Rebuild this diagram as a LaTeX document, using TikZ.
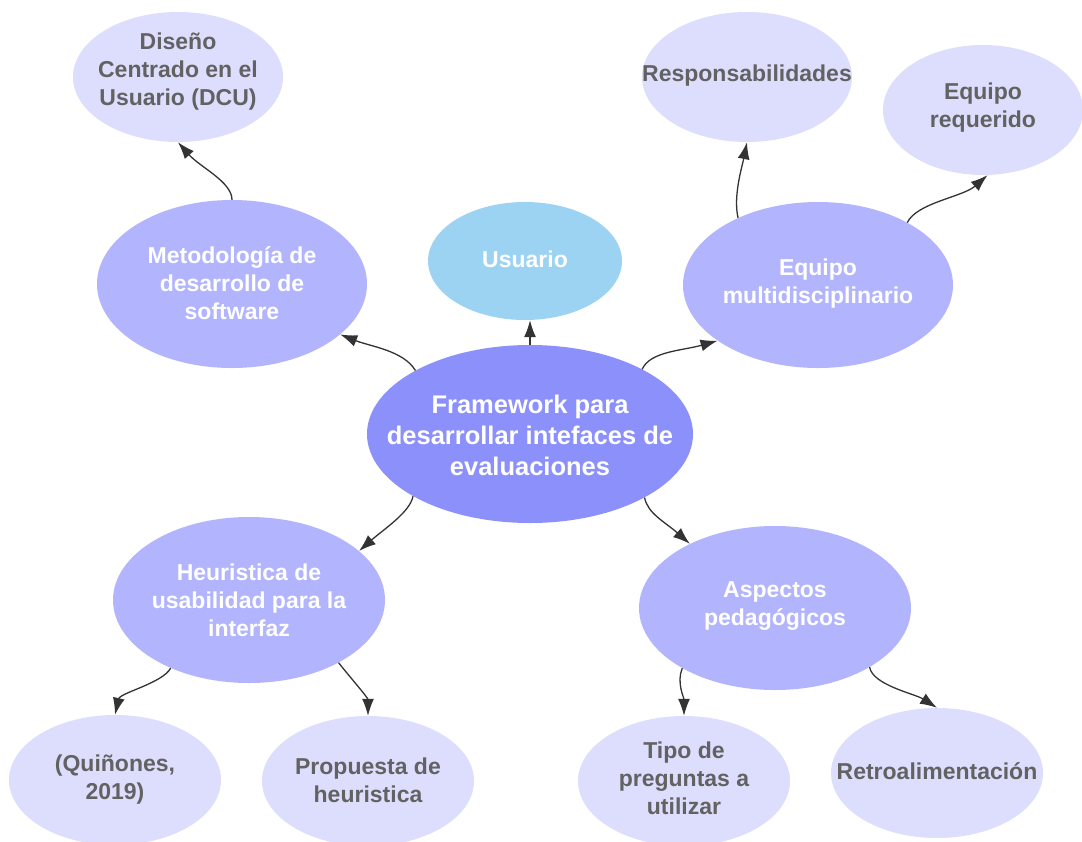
\documentclass[tikz,border=0pt]{standalone}
\usepackage{fontspec}
\setmainfont{Liberation Sans}
\usetikzlibrary{shapes.geometric,arrows.meta}
\definecolor{cmain}{HTML}{8C90FA}
\definecolor{cmid}{HTML}{B2B5FD}
\definecolor{cleaf}{HTML}{DDDEFD}
\definecolor{cuser}{HTML}{9DD3F2}
\definecolor{cleaftext}{HTML}{626262}
\definecolor{carrow}{HTML}{333333}
\begin{document}
\begin{tikzpicture}[x=1pt,y=-1pt,
  blob/.style={ellipse, draw=none, inner sep=0pt},
  mainblob/.style={blob, fill=cmain, minimum width=326pt, minimum height=178pt},
  midblob/.style={blob, fill=cmid, minimum width=270pt, minimum height=166pt},
  leafblob/.style={blob, fill=cleaf, minimum width=212pt, minimum height=130pt},
  userblob/.style={blob, fill=cuser, minimum width=194pt, minimum height=118pt},
  maintext/.style={align=center, inner sep=0pt, text=white, font=\fontsize{25.5}{31}\selectfont\bfseries},
  midtext/.style={align=center, inner sep=0pt, text=white, font=\fontsize{23}{28}\selectfont\bfseries},
  leaftext/.style={midtext, text=cleaftext},
  conn/.style={draw=carrow, line width=1.3pt, -{Latex[length=17pt,width=12pt]}},
]
\useasboundingbox (0,0) rectangle (1082,841);
\clip (0,0) rectangle (1082,841);
\fill[white] (0,0) rectangle (1082,841);

% ellipses
\node[mainblob] (C) at (530,434) {};
\node[userblob] (U) at (525,261) {};
\node[midblob, minimum height=168pt] (M) at (232,284) {};
\node[midblob] (E) at (818,285) {};
\node[midblob, minimum width=272pt] (H) at (249,600) {};
\node[midblob, minimum width=272pt, minimum height=164pt] (A) at (775,608) {};
\node[leafblob, minimum width=210pt] (D) at (178,77) {};
\node[leafblob, minimum width=210pt] (R) at (747,77) {};
\node[leafblob, minimum width=200pt] (Q) at (983,110) {};
\node[leafblob] (Qu) at (115,780) {};
\node[leafblob] (P) at (368,781) {};
\node[leafblob] (T) at (684,781) {};
\node[leafblob] (Rt) at (937,773) {};

% texts
\node[maintext] (C-t) at (530,435) {Framework para\\desarrollar intefaces de\\evaluaciones};
\node[midtext] (U-t) at (525,259) {Usuario};
\node[midtext] (M-t) at (232,283) {Metodología de\\desarrollo de\\software};
\node[midtext] (E-t) at (818,284) {Equipo\\multidisciplinario};
\node[midtext] (H-t) at (249,600) {Heuristica de\\usabilidad para la\\interfaz};
\node[midtext] (A-t) at (775,606) {Aspectos\\pedagógicos};
\node[leaftext] (D-t) at (178,72) {Diseño\\Centrado en el\\Usuario (DCU)};
\node[leaftext] (R-t) at (747,76) {Responsabilidades};
\node[leaftext] (Q-t) at (983,108) {Equipo\\requerido};
\node[leaftext] (Qu-t) at (115,780) {(Quiñones,\\2019)};
\node[leaftext] (P-t) at (368,780) {Propuesta de\\heuristica};
\node[leaftext] (T-t) at (684,778) {Tipo de\\preguntas a\\utilizar};
\node[leaftext] (Rt-t) at (937,771) {Retroalimentación};

% connectors
\draw[conn] (C.151) .. controls +(-12,-20) and +(30,12) .. (M.335);
\draw[conn] (C.north) -- (C.north |- U.south);
\draw[conn] (C.30) .. controls +(8,-18) and +(-35,10) .. (E.209);
\draw[conn] (M.north) .. controls +(0,-18) and +(22,25) .. (D.south);
\draw[conn] (E.140) .. controls +(-5,-22) and +(-5,25) .. (R.south);
\draw[conn] (E.35) .. controls +(10,-20) and +(-25,22) .. (Q.274);
\draw[conn] (C.208) .. controls +(-3,16) and +(25,-22) .. (H.24);
\draw[conn] (C.331) .. controls +(3,16) and +(-25,-22) .. (A.143);
\draw[conn] (H.221) .. controls +(-8,15) and +(5,-22) .. (Qu.north);
\draw[conn] (H.325) .. controls +(12,15) and +(0,-18) .. (P.north);
\draw[conn] (A.213) .. controls +(-6,14) and +(0,-18) .. (T.north);
\draw[conn] (A.328) .. controls +(3,18) and +(-22,-14) .. (Rt.north);
\end{tikzpicture}
\end{document}
